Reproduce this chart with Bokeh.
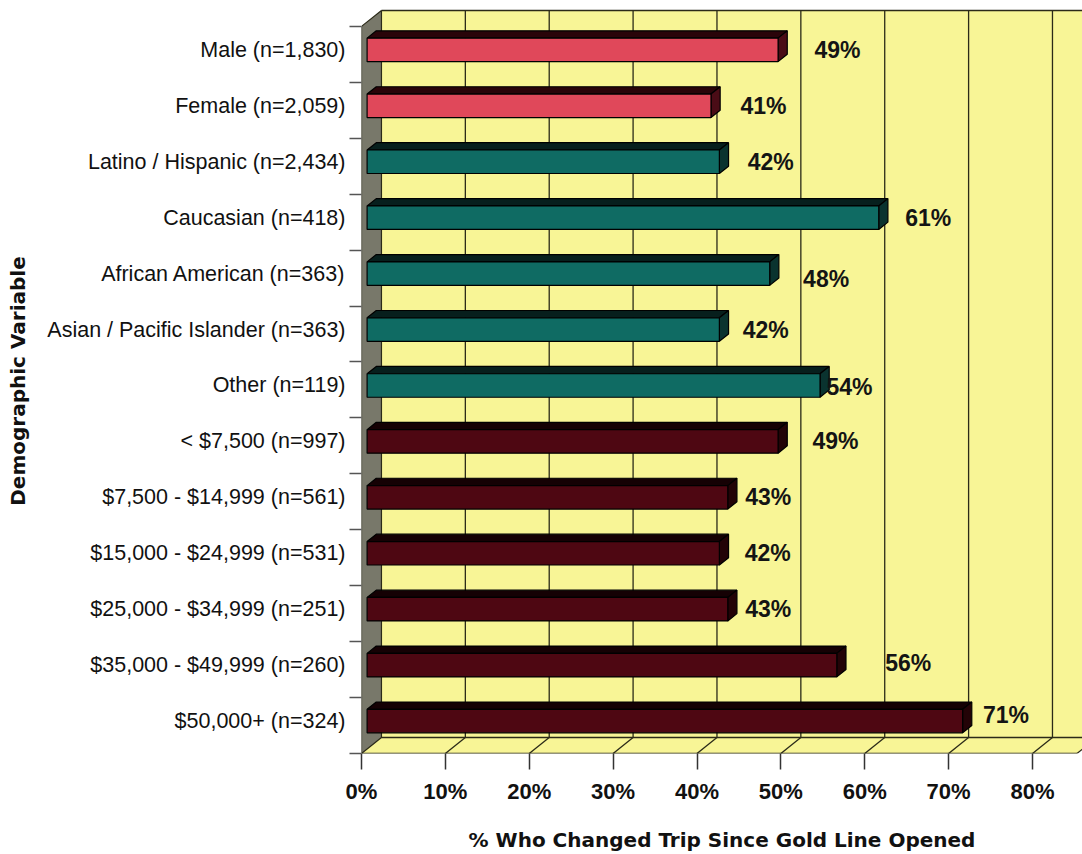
from bokeh.plotting import figure
from bokeh.models import Range1d, FixedTicker, ColumnDataSource
from bokeh.core.properties import value
from bokeh.embed import file_html
from bokeh.resources import INLINE

# ---- data -------------------------------------------------------------
categories = [
    "Male (n=1,830)",
    "Female (n=2,059)",
    "Latino / Hispanic (n=2,434)",
    "Caucasian (n=418)",
    "African American (n=363)",
    "Asian / Pacific Islander (n=363)",
    "Other (n=119)",
    "< $7,500 (n=997)",
    "$7,500 - $14,999 (n=561)",
    "$15,000 - $24,999 (n=531)",
    "$25,000 - $34,999 (n=251)",
    "$35,000 - $49,999 (n=260)",
    "$50,000+ (n=324)",
]
pct_changed = [49, 41, 42, 61, 48, 42, 54, 49, 43, 42, 43, 56, 71]
groups = ["gender"] * 2 + ["ethnicity"] * 5 + ["income"] * 6
x_ticks = [0, 10, 20, 30, 40, 50, 60, 70, 80]

# label nudges (screen px) so value labels sit where they read best
label_dx = [42, 35, 34, 32, 39, 29, 12, 40, 23, 31, 23, 54, 26]
label_dy = [0, 0, 0, 0, 5, 0, 2, 0, 0, 0, 0, -2, -6]

# ---- styling ----------------------------------------------------------
face = {"gender": "#e0485a", "ethnicity": "#0f6b63", "income": "#4e0712"}
top = {"gender": "#2a0409", "ethnicity": "#071f1d", "income": "#150104"}
side = {"gender": "#4a0c16", "ethnicity": "#0a332f", "income": "#230307"}
YELLOW = "#f8f596"
WALL = "#78786a"
LINE = "#2b2a18"

XMAX = 85.96          # visible extent of the value axis
X_END = 85.3          # right end of the floor
YMAX = 13.32
DX, DY = 2.38, 0.285  # depth of the 3-D box, in data units
F1, F2 = 0.28, 0.74   # bar front / back depth fractions
H = 0.42              # bar thickness
n = len(categories)

p = figure(
    width=1082, height=854,
    x_range=Range1d(0, XMAX), y_range=Range1d(0, YMAX),
    output_backend="svg", toolbar_location=None,
    min_border_left=361, min_border_right=0,
    min_border_top=8, min_border_bottom=98,
)
p.outline_line_color = None
p.grid.visible = False
p.background_fill_color = "white"
p.border_fill_color = "white"

# back plane
p.patch([DX, X_END + DX + 5, X_END + DX + 5, DX], [DY, DY, n + DY, n + DY],
        fill_color=YELLOW, line_color=None)
p.line([DX, X_END + DX + 5], [n + DY, n + DY], line_color=LINE, line_width=1.5)
# vertical gridlines on the back plane
p.multi_line([[t + DX, t + DX] for t in x_ticks[1:]],
             [[DY, n + DY] for _ in x_ticks[1:]],
             line_color=LINE, line_width=1.3)

# floor
p.patch([0, X_END, X_END + DX, DX], [0, 0, DY, DY], fill_color=YELLOW, line_color=None)
p.line([DX, X_END + DX + 5], [DY, DY], line_color=LINE, line_width=1.5)
p.multi_line([[t, t + DX] for t in x_ticks[1:]] + [[X_END, X_END + DX]],
             [[0, DY] for _ in x_ticks[1:]] + [[0, DY]],
             line_color=LINE, line_width=1.3)
p.line([0, X_END], [0, 0], line_color=LINE, line_width=1.5)

# left wall
p.patch([0, DX, DX, 0], [0, DY, n + DY, n], fill_color=WALL,
        line_color=LINE, line_width=1.2)

# bars
for k, (v, g) in enumerate(zip(pct_changed, groups)):
    yc = n - k - 0.5
    yb1, yt1 = yc - H / 2 + F1 * DY, yc + H / 2 + F1 * DY
    yb2, yt2 = yc - H / 2 + F2 * DY, yc + H / 2 + F2 * DY
    x0a, x0b = F1 * DX, F2 * DX
    x1a, x1b = v + F1 * DX, v + F2 * DX
    p.patch([x0a, x1a, x1b, x0b], [yt1, yt1, yt2, yt2],
            fill_color=top[g], line_color="black", line_width=1.2)
    p.patch([x1a, x1b, x1b, x1a], [yb1, yb2, yt2, yt1],
            fill_color=side[g], line_color="black", line_width=1.2)
    p.quad(left=x0a, right=x1a, bottom=yb1, top=yt1,
           fill_color=face[g], line_color="black", line_width=1.2)

# value labels
bar_mid = [n - k - 0.5 + F1 * DY for k in range(n)]
src = ColumnDataSource(dict(
    x=pct_changed, y=bar_mid, txt=[f"{v}%" for v in pct_changed],
    dx=label_dx, dy=label_dy,
))
p.text(x="x", y="y", text="txt", x_offset="dx", y_offset="dy", source=src,
       text_align="left", text_baseline="middle",
       text_font=value("Liberation Sans"), text_font_style="bold",
       text_font_size="23px", text_color="#141414")

# value axis
xa = p.xaxis[0]
xa.ticker = FixedTicker(ticks=x_ticks, minor_ticks=[])
xa.major_label_overrides = {t: f"{t}%" for t in x_ticks}
xa.axis_line_color = None
xa.major_tick_out = 16
xa.major_tick_in = 0
xa.major_tick_line_color = "#333333"
xa.major_tick_line_width = 1.5
xa.major_label_standoff = 9
xa.major_label_text_font = "Liberation Sans"
xa.major_label_text_font_style = "bold"
xa.major_label_text_font_size = "22px"
xa.major_label_text_color = "#111111"
xa.axis_label = "% Who Changed Trip Since Gold Line Opened"
xa.axis_label_text_font = "DejaVu Sans"
xa.axis_label_text_font_style = "bold"
xa.axis_label_text_font_size = "20px"
xa.axis_label_text_color = "#111111"
xa.axis_label_standoff = 21

# category axis: labels at bar centres, ticks between rows
ya = p.yaxis[0]
ya.ticker = FixedTicker(ticks=bar_mid, minor_ticks=list(range(n + 1)))
ya.major_label_overrides = {bar_mid[k]: c for k, c in enumerate(categories)}
ya.axis_line_color = None
ya.major_tick_out = 0
ya.major_tick_in = 0
ya.minor_tick_out = 12
ya.minor_tick_in = 0
ya.minor_tick_line_color = "#555555"
ya.minor_tick_line_width = 1.5
ya.major_label_standoff = 4
ya.major_label_text_font = "Liberation Sans"
ya.major_label_text_font_size = "21.5px"
ya.major_label_text_color = "#111111"
ya.axis_label = "Demographic Variable"
ya.axis_label_text_font = "DejaVu Sans"
ya.axis_label_text_font_style = "bold"
ya.axis_label_text_font_size = "20px"
ya.axis_label_text_color = "#111111"
ya.axis_label_standoff = 14

open("out.html", "w").write(file_html(p, INLINE))
